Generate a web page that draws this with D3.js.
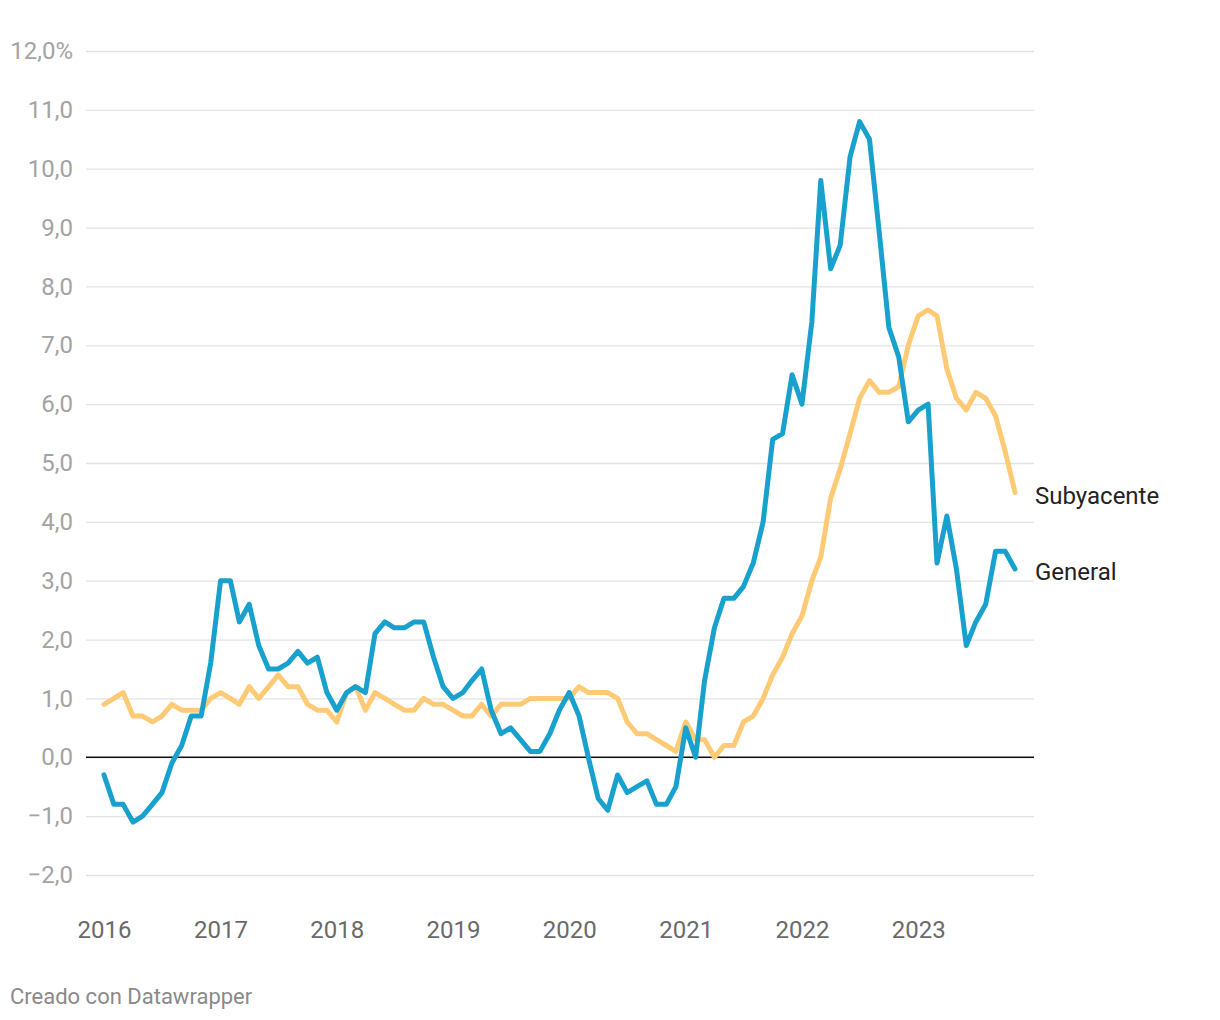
<!DOCTYPE html>
<html>
<head>
<meta charset="utf-8">
<script src="https://cdn.jsdelivr.net/npm/d3@7"></script>
<style>
  html, body { margin: 0; padding: 0; background: #fff; }
  svg { display: block; font-family: Roboto, "Noto Sans", sans-serif; }
</style>
</head>
<body>
<svg id="chart" width="1220" height="1020"></svg>
<script>
// Monthly, Jan 2016 – Nov 2023
const startMonth = "2016-01-01";
const general = [
  -0.3, -0.8, -0.8, -1.1, -1.0, -0.8, -0.6, -0.1, 0.2, 0.7, 0.7, 1.6,
  3.0, 3.0, 2.3, 2.6, 1.9, 1.5, 1.5, 1.6, 1.8, 1.6, 1.7, 1.1,
  0.8, 1.1, 1.2, 1.1, 2.1, 2.3, 2.2, 2.2, 2.3, 2.3, 1.7, 1.2,
  1.0, 1.1, 1.3, 1.5, 0.8, 0.4, 0.5, 0.3, 0.1, 0.1, 0.4, 0.8,
  1.1, 0.7, 0.0, -0.7, -0.9, -0.3, -0.6, -0.5, -0.4, -0.8, -0.8, -0.5,
  0.5, 0.0, 1.3, 2.2, 2.7, 2.7, 2.9, 3.3, 4.0, 5.4, 5.5, 6.5,
  6.0, 7.4, 9.8, 8.3, 8.7, 10.2, 10.8, 10.5, 8.9, 7.3, 6.8, 5.7,
  5.9, 6.0, 3.3, 4.1, 3.2, 1.9, 2.3, 2.6, 3.5, 3.5, 3.2
];
const subyacente = [
  0.9, 1.0, 1.1, 0.7, 0.7, 0.6, 0.7, 0.9, 0.8, 0.8, 0.8, 1.0,
  1.1, 1.0, 0.9, 1.2, 1.0, 1.2, 1.4, 1.2, 1.2, 0.9, 0.8, 0.8,
  0.6, 1.1, 1.2, 0.8, 1.1, 1.0, 0.9, 0.8, 0.8, 1.0, 0.9, 0.9,
  0.8, 0.7, 0.7, 0.9, 0.7, 0.9, 0.9, 0.9, 1.0, 1.0, 1.0, 1.0,
  1.0, 1.2, 1.1, 1.1, 1.1, 1.0, 0.6, 0.4, 0.4, 0.3, 0.2, 0.1,
  0.6, 0.3, 0.3, 0.0, 0.2, 0.2, 0.6, 0.7, 1.0, 1.4, 1.7, 2.1,
  2.4, 3.0, 3.4, 4.4, 4.9, 5.5, 6.1, 6.4, 6.2, 6.2, 6.3, 7.0,
  7.5, 7.6, 7.5, 6.6, 6.1, 5.9, 6.2, 6.1, 5.8, 5.2, 4.5
];
const yTicks = [-2, -1, 0, 1, 2, 3, 4, 5, 6, 7, 8, 9, 10, 11, 12];
const xTickYears = [2016, 2017, 2018, 2019, 2020, 2021, 2022, 2023];
const seriesNames = ["Subyacente", "General"];

const svg = d3.select("#chart");
const x0 = new Date(startMonth + "T00:00:00");
const dates = general.map((_, i) => new Date(x0.getFullYear(), x0.getMonth() + i, 1));

const plotLeft = 86, plotRight = 1034;
const x = d3.scaleTime()
  .domain([dates[0], dates[dates.length - 1]])
  .range([104, 1015]);
const y = d3.scaleLinear().domain([-2, 12]).range([875, 51]);

const fmt = v => {
  const s = d3.format(".1f")(Math.abs(v)).replace(".", ",");
  const t = (v < 0 ? "\u2212" : "") + s;
  return v === 12 ? t + "%" : t;
};

// Y axis with gridlines
const yAxis = d3.axisLeft(y)
  .tickValues(yTicks)
  .tickSize(-(plotRight - plotLeft))
  .tickPadding(13)
  .tickFormat(fmt);
const gy = svg.append("g")
  .attr("transform", `translate(${plotLeft},0)`)
  .call(yAxis);
gy.select(".domain").remove();
gy.selectAll(".tick line").attr("stroke", "#e3e3e3").attr("stroke-width", 1.3);
gy.selectAll(".tick text")
  .attr("fill", "#a3a3a3")
  .style("font-size", "24px")
  .style("font-family", "Roboto, sans-serif");

// zero line
svg.append("line")
  .attr("x1", plotLeft).attr("x2", plotRight)
  .attr("y1", y(0)).attr("y2", y(0))
  .attr("stroke", "#111").attr("stroke-width", 1.4);

// X axis
const xAxis = d3.axisBottom(x)
  .tickValues(xTickYears.map(yr => new Date(yr, 0, 1)))
  .tickSize(0)
  .tickPadding(0)
  .tickFormat(d3.timeFormat("%Y"));
const gx = svg.append("g")
  .attr("transform", `translate(0,921)`)
  .call(xAxis);
gx.select(".domain").remove();
gx.selectAll(".tick text")
  .attr("fill", "#6a6a6a")
  .style("font-size", "24px")
  .style("font-family", "Roboto, sans-serif");

// Lines
const line = d3.line()
  .x((d, i) => x(dates[i]))
  .y(d => y(d))
  .curve(d3.curveLinear);

svg.append("path")
  .datum(subyacente)
  .attr("fill", "none")
  .attr("stroke", "#ffca76")
  .attr("stroke-width", 5)
  .attr("stroke-linejoin", "round")
  .attr("stroke-linecap", "round")
  .attr("d", line);

svg.append("path")
  .datum(general)
  .attr("fill", "none")
  .attr("stroke", "#18a1cd")
  .attr("stroke-width", 5)
  .attr("stroke-linejoin", "round")
  .attr("stroke-linecap", "round")
  .attr("d", line);

// Series labels
const last = dates.length - 1;
svg.append("text")
  .attr("x", x(dates[last]) + 20)
  .attr("y", y(subyacente[last]) + 5)
  .attr("dominant-baseline", "middle")
  .attr("fill", "#222")
  .style("font-size", "24px")
  .text(seriesNames[0]);
svg.append("text")
  .attr("x", x(dates[last]) + 20)
  .attr("y", y(general[last]) + 5)
  .attr("dominant-baseline", "middle")
  .attr("fill", "#222")
  .style("font-size", "24px")
  .text(seriesNames[1]);

// Footer
svg.append("text")
  .attr("x", 10)
  .attr("y", 1004)
  .attr("fill", "#8a8a8a")
  .style("font-size", "22px")
  .text("Creado con Datawrapper");
</script>
</body>
</html>
